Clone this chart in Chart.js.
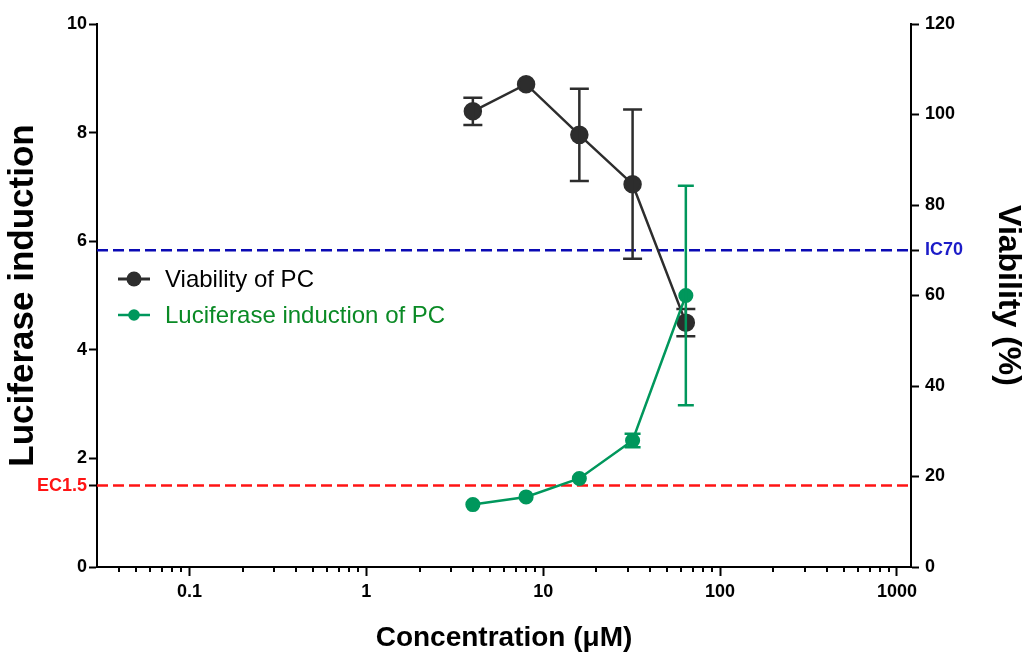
<!DOCTYPE html>
<html>
<head>
<meta charset="utf-8">
<script src="https://cdn.jsdelivr.net/npm/chart.js@4.4.0/dist/chart.umd.min.js"></script>
<style>
  html, body { margin: 0; padding: 0; background: #fff; }
  canvas { display: block; }
</style>
</head>
<body>
<canvas id="chart" width="1027" height="655"></canvas>
<script>
// values
const concentrations = [4, 8, 16, 32, 64]
const viability = [100.7, 106.7, 95.5, 84.6, 54.0]
const viabilityErr = [3.0, 0, 10.2, 16.5, 3.0]
const luciferase = [1.15, 1.29, 1.63, 2.33, 5.0]
const luciferaseErr = [0, 0, 0, 0.125, 2.02]

const xMajorTicks = [0.1, 1, 10, 100, 1000]
const xRange = [0.03, 1200]
const leftTicks = [0, 1.5, 2, 4, 6, 8, 10]
const rightTicks = [0, 20, 40, 60, 70, 80, 100, 120]
const ecLevel = 1.5
const icLevel = 70
const ecLabel = "EC1.5"
const icLabel = "IC70"
const seriesNames = ["Viability of PC", "Luciferase induction of PC"]

const FONT = "'Liberation Sans', Arial, Helvetica, sans-serif"
const DARK = "#2d2d2d"
const GREEN = "#00975c"
const GREEN_TEXT = "#0a8a25"
const RED = "#ff1414"
const BLUE = "#0a0ab4"
const BLUE_TEXT = "#1c1cc8"

const tickFont = {family: FONT, size: 18, weight: "bold"}

const toPoints = (ys) => concentrations.map((x, i) => ({x: x, y: ys[i]}))

// minor ticks of the log axis (2..9 of every decade)
function minorTicks(min, max) {
  const out = []
  for (let d = Math.floor(Math.log10(min)); d <= Math.ceil(Math.log10(max)); d++) {
    for (let m = 2; m <= 9; m++) {
      const v = m * Math.pow(10, d)
      if (v > min && v < max) out.push(v)
    }
  }
  return out
}

const errorBars = {
  id: "errorBars",
  afterDatasetDraw(chart, args) {
    const ds = chart.data.datasets[args.index]
    if (!ds.errors) return
    const xs = chart.scales.x
    const ys = chart.scales[ds.yAxisID]
    const ctx = chart.ctx
    ctx.save()
    ctx.strokeStyle = ds.borderColor
    ctx.lineWidth = ds.errorWidth
    ds.data.forEach((p, i) => {
      const e = ds.errors[i]
      if (!e) return
      const px = xs.getPixelForValue(p.x)
      const top = ys.getPixelForValue(p.y + e)
      const bot = ys.getPixelForValue(p.y - e)
      const cap = ds.capHalf
      ctx.beginPath()
      ctx.moveTo(px, top)
      ctx.lineTo(px, bot)
      ctx.moveTo(px - cap, top)
      ctx.lineTo(px + cap, top)
      ctx.moveTo(px - cap, bot)
      ctx.lineTo(px + cap, bot)
      ctx.stroke()
    })
    ctx.restore()
  },
}

const minorTickMarks = {
  id: "minorTickMarks",
  afterDraw(chart) {
    const xs = chart.scales.x
    const ctx = chart.ctx
    const y0 = chart.chartArea.bottom
    ctx.save()
    ctx.strokeStyle = "#000"
    ctx.lineWidth = 2
    minorTicks(xRange[0], xRange[1]).forEach((v) => {
      const px = Math.round(xs.getPixelForValue(v))
      ctx.beginPath()
      ctx.moveTo(px, y0)
      ctx.lineTo(px, y0 + 5)
      ctx.stroke()
    })
    ctx.restore()
  },
}

const sideLegend = {
  id: "sideLegend",
  afterDraw(chart) {
    const ctx = chart.ctx
    const rows = [
      {ds: chart.data.datasets[0], y: 279, text: "#000", lw: 3},
      {ds: chart.data.datasets[1], y: 315, text: GREEN_TEXT, lw: 2.5},
    ]
    ctx.save()
    rows.forEach((r) => {
      ctx.strokeStyle = r.ds.borderColor
      ctx.lineWidth = r.lw
      ctx.beginPath()
      ctx.moveTo(118, r.y)
      ctx.lineTo(150, r.y)
      ctx.stroke()
      ctx.fillStyle = r.ds.pointBackgroundColor
      ctx.beginPath()
      ctx.arc(134, r.y, r.ds.pointRadius - 0.5, 0, Math.PI * 2)
      ctx.fill()
      ctx.fillStyle = r.text
      ctx.font = "24px " + FONT
      ctx.textBaseline = "middle"
      ctx.textAlign = "left"
      ctx.fillText(r.ds.label, 165, r.y + 1)
    })
    ctx.restore()
  },
}

const axisLine = {display: true, color: "#000", width: 2}

new Chart(document.getElementById("chart"), {
  type: "line",
  data: {
    datasets: [
      {
        label: seriesNames[0],
        data: toPoints(viability),
        errors: viabilityErr,
        yAxisID: "yR",
        borderColor: DARK,
        backgroundColor: DARK,
        pointBackgroundColor: DARK,
        pointBorderColor: DARK,
        pointRadius: 8,
        borderWidth: 2.5,
        errorWidth: 2.5,
        capHalf: 9.5,
        order: 2,
      },
      {
        label: seriesNames[1],
        data: toPoints(luciferase),
        errors: luciferaseErr,
        yAxisID: "y",
        borderColor: GREEN,
        backgroundColor: GREEN,
        pointBackgroundColor: GREEN,
        pointBorderColor: GREEN,
        pointRadius: 6.3,
        borderWidth: 2.5,
        errorWidth: 2.5,
        capHalf: 8,
        order: 1,
      },
      {
        label: ecLabel,
        data: [{x: xRange[0], y: ecLevel}, {x: xRange[1], y: ecLevel}],
        yAxisID: "y",
        borderColor: RED,
        borderDash: [11, 5],
        borderWidth: 2.5,
        pointRadius: 0,
        order: 3,
      },
      {
        label: icLabel,
        data: [{x: xRange[0], y: icLevel}, {x: xRange[1], y: icLevel}],
        yAxisID: "yR",
        borderColor: BLUE,
        borderDash: [11, 5],
        borderWidth: 2.5,
        pointRadius: 0,
        order: 3,
      },
    ],
  },
  options: {
    responsive: false,
    animation: false,
    layout: {padding: {top: 24, left: 0, right: 0, bottom: 0}},
    plugins: {legend: {display: false}, tooltip: {enabled: false}},
    scales: {
      x: {
        type: "logarithmic",
        position: "bottom",
        min: xRange[0],
        max: xRange[1],
        afterBuildTicks: (s) => {
          s.ticks = xMajorTicks.map((v) => ({value: v}))
        },
        afterFit: (s) => {
          s.height = 88
        },
        ticks: {
          callback: (v) => String(v),
          font: tickFont,
          color: "#000",
          padding: 5,
          autoSkip: false,
          maxRotation: 0,
        },
        grid: {drawOnChartArea: false, drawTicks: true, tickLength: 9, tickWidth: 2, tickColor: "#000"},
        border: axisLine,
        title: {
          display: true,
          text: "Concentration (μM)",
          color: "#000",
          font: {family: FONT, size: 28, weight: "bold"},
          padding: {top: 0, bottom: 0},
        },
      },
      y: {
        position: "left",
        min: 0,
        max: 10,
        afterBuildTicks: (s) => {
          s.ticks = leftTicks.map((v) => ({value: v}))
        },
        afterFit: (s) => {
          s.width = 97
        },
        ticks: {
          callback: (v) => (v === ecLevel ? ecLabel : v),
          color: (c) => (c.tick && c.tick.value === ecLevel ? RED : "#000"),
          font: tickFont,
          padding: 2,
          autoSkip: false,
        },
        grid: {drawOnChartArea: false, drawTicks: true, tickLength: 8, tickWidth: 2, tickColor: "#000"},
        border: axisLine,
        title: {
          display: true,
          text: "Luciferase induction",
          color: "#000",
          font: {family: FONT, size: 35, weight: "bold"},
          padding: {top: 2, bottom: 0},
        },
      },
      yR: {
        position: "right",
        min: 0,
        max: 120,
        afterBuildTicks: (s) => {
          s.ticks = rightTicks.map((v) => ({value: v}))
        },
        afterFit: (s) => {
          s.width = 116
        },
        ticks: {
          callback: (v) => (v === icLevel ? icLabel : v),
          color: (c) => (c.tick && c.tick.value === icLevel ? BLUE_TEXT : "#000"),
          font: tickFont,
          padding: 6,
          autoSkip: false,
        },
        grid: {drawOnChartArea: false, drawTicks: true, tickLength: 8, tickWidth: 2, tickColor: "#000"},
        border: axisLine,
        title: {
          display: true,
          text: "Viability (%)",
          color: "#000",
          font: {family: FONT, size: 32, weight: "bold"},
          padding: {top: 0, bottom: 0},
        },
      },
    },
  },
  plugins: [errorBars, minorTickMarks, sideLegend],
})
</script>
</body>
</html>
